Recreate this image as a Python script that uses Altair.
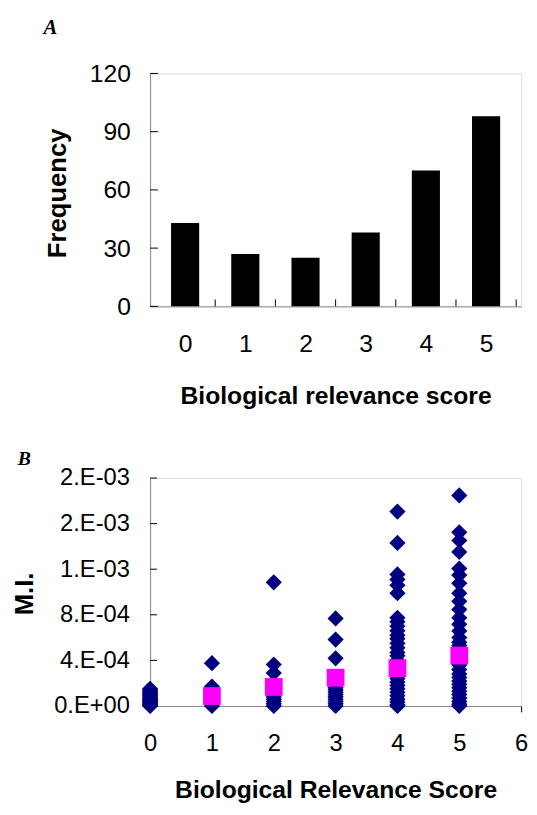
import altair as alt
import pandas as pd

# ---------------- Panel A data ----------------
scores = [0, 1, 2, 3, 4, 5]
frequency = [43, 27, 25, 38, 70, 98]
freq_ticks = [0, 30, 60, 90, 120]

# ---------------- Panel B data (M.I. in units of 1e-4) ----------------
mi_score0 = [0.0, 0.05, 0.1, 0.18, 0.25, 0.32, 0.4, 0.48, 0.55, 0.62, 0.7, 0.8, 0.9, 1.0, 1.1, 1.2, 1.3, 1.4, 1.5]
mi_score1 = [0.0, 0.3, 0.6, 1.0, 1.3, 1.7, 3.75]
mi_score2 = [0.0, 0.2, 0.4, 0.6, 0.8, 1.2, 1.5, 2.0, 2.89, 3.64, 10.85]
mi_score3 = [0.0, 0.2, 0.4, 0.6, 0.8, 1.0, 1.2, 1.4, 1.6, 1.9, 2.2, 2.5, 4.18, 5.83, 7.68]
mi_score4 = [0.0, 0.1, 0.35, 0.6, 0.9, 1.2, 1.5, 1.8, 2.1, 2.4, 2.8, 3.2, 3.6, 4.0, 4.4, 4.7,
             5.1, 5.5, 5.9, 6.2, 6.6, 7.0, 7.4, 7.73, 9.9, 10.6, 11.1, 11.54, 14.31, 17.06]
mi_score5 = [0.0, 0.15, 0.4, 0.7, 1.0, 1.3, 1.6, 1.9, 2.2, 2.5, 2.8, 3.2, 3.6, 4.0, 4.4, 4.8,
             5.3, 5.6, 6.0, 6.58, 7.16, 7.73, 8.46, 9.18, 9.9, 10.76, 11.49, 12.06, 13.51,
             14.52, 15.24, 18.47]
mean_scores = [1, 2, 3, 4, 5]
mean_mi = [0.87, 1.67, 2.48, 3.32, 4.42]
mi_unit = 1e-4

mi_ticks = [0, 0.0004, 0.0008, 0.0012, 0.0016, 0.002]
mi_tick_labels = ["0.E+00", "4.E-04", "8.E-04", "1.E-03", "2.E-03", "2.E-03"]
score_ticks_b = [0, 1, 2, 3, 4, 5, 6]

FONT = "Liberation Sans"
SERIF = "Liberation Serif"

# ---------------- Panel A ----------------
W_A, H_A = 376, 236
df_a = pd.DataFrame({"score": scores, "freq": frequency})
x_scale_a = alt.Scale(domain=[-0.5, 5.5], nice=False, zero=False)
y_scale_a = alt.Scale(domain=[0, 120], nice=False)

x_axis_a = alt.Axis(values=scores, format="d", title="Biological relevance score", grid=False,
                    ticks=False, tickSize=0, labelFontSize=25, labelPadding=46,
                    labelBaseline="alphabetic", labelFlush=False, labelOverlap=False,
                    titleFontSize=25, titleX=W_A / 2, titleY=98,
                    titleBaseline="alphabetic", titleAlign="center")
y_axis_a = alt.Axis(values=freq_ticks, format="d", title="Frequency", grid=False,
                    ticks=False, tickSize=0, labelFontSize=25, labelPadding=20,
                    labelOverlap=False, titleFontSize=26, titleAngle=270,
                    titleX=-86, titleY=121, titleBaseline="alphabetic",
                    titleAlign="center")

bars = alt.Chart(df_a).mark_bar(size=28.5, color="black").encode(
    x=alt.X("score:Q", scale=x_scale_a, axis=x_axis_a),
    y=alt.Y("freq:Q", scale=y_scale_a, axis=y_axis_a),
)
ytick_a = alt.Chart(pd.DataFrame({"freq": freq_ticks})).mark_rule(color="black", strokeWidth=1).encode(
    y=alt.Y("freq:Q", scale=y_scale_a, axis=y_axis_a),
    x=alt.value(0), x2=alt.value(8),
)
xtick_a = alt.Chart(df_a).transform_calculate(score="datum.score + 0.5").mark_rule(
    color="black", strokeWidth=1).encode(
    x=alt.X("score:Q", scale=x_scale_a, axis=x_axis_a),
    y=alt.value(H_A), y2=alt.value(H_A - 7),
)
label_a = alt.Chart(pd.DataFrame({"t": ["A"]})).mark_text(
    font=SERIF, fontSize=21, fontWeight="bold", fontStyle="italic", align="left",
    baseline="alphabetic", color="black").encode(
    text="t:N", x=alt.value(-108), y=alt.value(-40))

panel_a = alt.layer(bars, ytick_a, xtick_a, label_a).properties(width=W_A, height=H_A)

# ---------------- Panel B ----------------
W_B, H_B = 376, 231
groups = [mi_score0, mi_score1, mi_score2, mi_score3, mi_score4, mi_score5]
rows = []
for s, vals in zip(scores, groups):
    for v in vals:
        rows.append({"score": s, "mi": v * mi_unit})
df_b = pd.DataFrame(rows)
df_mean = pd.DataFrame({"score": mean_scores, "mi": [v * mi_unit for v in mean_mi]})

x_scale_b = alt.Scale(domain=[0, 6], nice=False, zero=False)
y_scale_b = alt.Scale(domain=[0, 0.002], nice=False)

label_expr = "'" + mi_tick_labels[-1] + "'"
pairs = list(zip(mi_ticks, mi_tick_labels))[:-1]
for v, lab in reversed(pairs):
    label_expr = f"datum.value < {v + 0.0002:.5f} ? '{lab}' : " + label_expr

x_axis_b = alt.Axis(values=score_ticks_b, format="d", title="Biological Relevance Score", grid=False,
                    ticks=True, tickSize=6, tickColor="black", labelFontSize=24,
                    labelPadding=39, labelBaseline="alphabetic", labelFlush=False,
                    labelOverlap=False, titleFontSize=25, titleX=W_B / 2, titleY=93,
                    titleBaseline="alphabetic", titleAlign="center")
y_axis_b = alt.Axis(values=mi_ticks, labelExpr=label_expr, title="M.I.", grid=False,
                    ticks=False, tickSize=0, labelFontSize=24, labelPadding=21,
                    labelOverlap=False, titleFontSize=26, titleAngle=270,
                    titleX=-119, titleY=117, titleBaseline="alphabetic",
                    titleAlign="center")

diamonds = alt.Chart(df_b).mark_point(shape="diamond", filled=True, size=270,
                                       color="#000080", opacity=1).encode(
    x=alt.X("score:Q", scale=x_scale_b, axis=x_axis_b),
    y=alt.Y("mi:Q", scale=y_scale_b, axis=y_axis_b),
)
means = alt.Chart(df_mean).mark_square(size=324, color="#FF00FF", opacity=1).encode(
    x=alt.X("score:Q", scale=x_scale_b, axis=x_axis_b),
    y=alt.Y("mi:Q", scale=y_scale_b, axis=y_axis_b),
)
ytick_b = alt.Chart(pd.DataFrame({"mi": mi_ticks})).mark_rule(color="black", strokeWidth=1).encode(
    y=alt.Y("mi:Q", scale=y_scale_b, axis=y_axis_b),
    x=alt.value(0), x2=alt.value(7),
)
label_b = alt.Chart(pd.DataFrame({"t": ["B"]})).mark_text(
    font=SERIF, fontSize=20, fontWeight="bold", fontStyle="italic", align="left",
    baseline="alphabetic", color="black").encode(
    text="t:N", x=alt.value(-134), y=alt.value(-13))

panel_b = alt.layer(ytick_b, diamonds, means, label_b).properties(width=W_B, height=H_B)

chart = alt.vconcat(panel_a, panel_b, spacing=174, bounds="flush").properties(
    padding={"left": 3, "top": 3, "right": 0, "bottom": -5}
).configure_view(
    stroke="#808080", strokeWidth=1
).configure_axis(
    labelFont=FONT, titleFont=FONT, labelColor="black", titleColor="black",
    titleFontWeight="bold", domainColor="black", domainWidth=1.5,
).configure(background="white")

chart.save("out.html", embed_options={"renderer": "svg", "actions": False})
